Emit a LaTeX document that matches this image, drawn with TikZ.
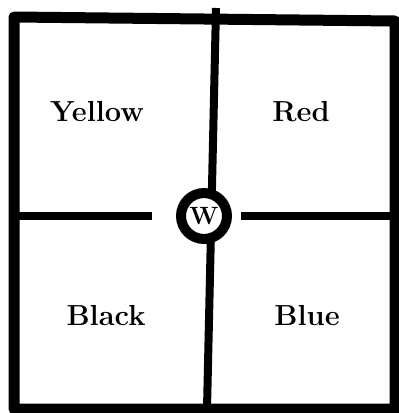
\documentclass[tikz,border=0pt]{standalone}
\begin{document}
\begin{tikzpicture}[x=1pt,y=-1pt, line join=round,
  rule/.style={line width=8pt},
  frame/.style={line width=11pt},
  lbl/.style={font=\fontsize{29}{32}\selectfont\bfseries, anchor=base, inner sep=0pt}]
\useasboundingbox (0,0) rectangle (399,413);
\coordinate (tl) at (14,17);
\coordinate (tr) at (395,21);
\coordinate (br) at (395,409);
\coordinate (bl) at (14,409);
\draw[frame] (tl) -- (tr) -- (br) -- (bl) -- cycle;
\coordinate (vt) at (216,8);
\coordinate (vb) at (207,409);
\draw[rule] (vt) -- (vb);
\node[circle, draw, fill=white, line width=10pt, minimum size=46pt, inner sep=0pt] (w) at (204,216) {};
\node[font=\fontsize{25}{25}\selectfont\bfseries, inner sep=0pt] (wl) at (w.center) {W};
\coordinate (hl) at (14,216);
\coordinate (hr) at (395,216);
\draw[rule] (hl) -- ([xshift=-24pt]w.west);
\draw[rule] ([xshift=9pt]w.east) -- (hr);
\node[lbl] (yellow) at (97,121) {Yellow};
\node[lbl] (red) at (301,121) {Red};
\node[lbl] (black) at (106,325) {Black};
\node[lbl] (blue) at (307,325) {Blue};
\end{tikzpicture}
\end{document}
